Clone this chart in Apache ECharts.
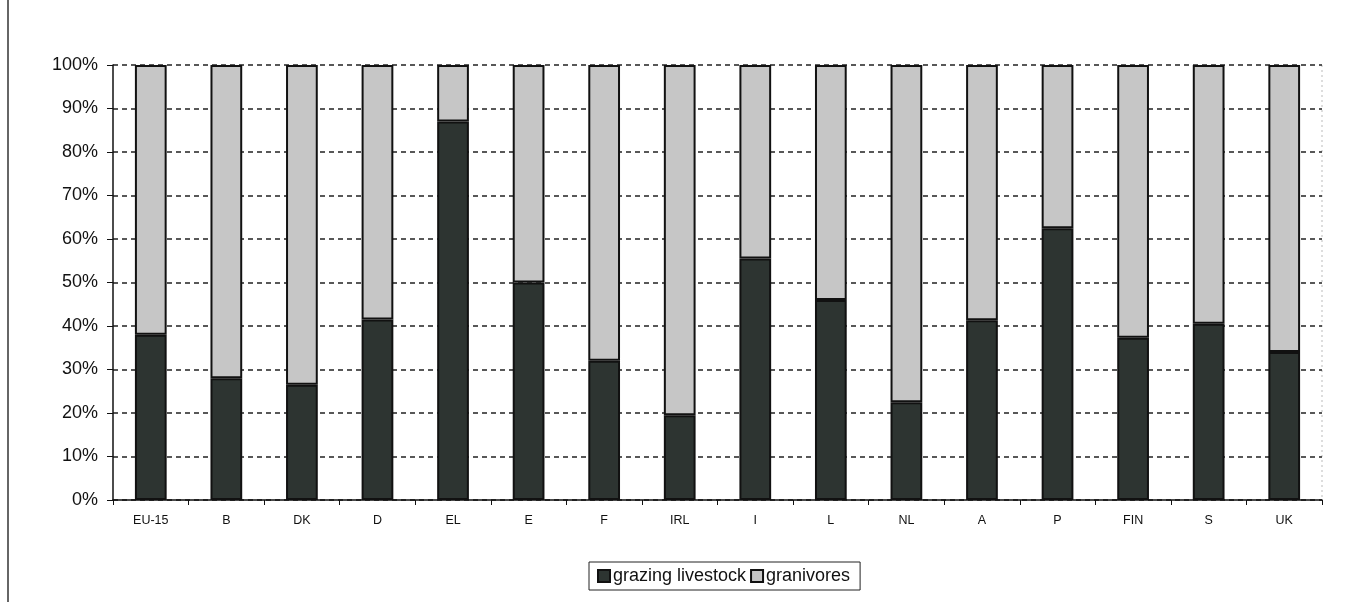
<!DOCTYPE html>
<html>
<head>
<meta charset="utf-8">
<script src="https://cdn.jsdelivr.net/npm/echarts@6/dist/echarts.min.js"></script>
<style>
html,body{margin:0;padding:0;background:#fff;}
#c{width:1372px;height:602px;}
</style>
</head>
<body>
<div id="c"></div>
<script>
const categories = ['EU-15','B','DK','D','EL','E','F','IRL','I','L','NL','A','P','FIN','S','UK'];
const grazing =    [38, 28, 26.5, 41.5, 87, 50, 32, 19.5, 55.5, 46, 22.5, 41.3, 62.5, 37.3, 40.5, 34];
const granivores = [62, 72, 73.5, 58.5, 13, 50, 68, 80.5, 44.5, 54, 77.5, 58.7, 37.5, 62.7, 59.5, 66];
const yTicks = [0,10,20,30,40,50,60,70,80,90,100];

const chart = echarts.init(document.getElementById('c'), null, {renderer:'canvas'});
const font = 'Liberation Sans, Arial, sans-serif';
chart.setOption({
  backgroundColor:'#ffffff',
  animation:false,
  grid:{left:113,right:50,top:65,bottom:102},
  legend:{
    data:['grazing livestock','granivores'],
    left:589, top:562,
    itemWidth:12,itemHeight:12,itemGap:4,
    icon:'rect',
    borderColor:'#222',borderWidth:1,padding:[5,10,5,8],
    textStyle:{fontFamily:font,fontSize:18,color:'#111',padding:[0,0,0,-2]}
  },
  xAxis:{
    type:'category',data:categories,
    axisLine:{lineStyle:{color:'#111',width:1.5}},
    axisTick:{show:true,alignWithLabel:false,length:5,lineStyle:{color:'#111'}},
    axisLabel:{fontFamily:font,fontSize:12.5,color:'#111',margin:14}
  },
  yAxis:{
    type:'value',min:0,max:100,interval:10,
    axisLine:{show:true,lineStyle:{color:'#111',width:1.5}},
    axisTick:{show:true,length:6,inside:false,lineStyle:{color:'#111'}},
    axisLabel:{fontFamily:font,fontSize:18,color:'#111',margin:15,formatter:v=>yTicks.includes(v)?v+'%':''},
    splitLine:{show:true,lineStyle:{color:'#222',type:[5,4],width:1.5}}
  },
  series:[
    {name:'grazing livestock',type:'bar',stack:'a',data:grazing,barWidth:'42%',
     itemStyle:{color:'#2d3431',borderColor:'#111',borderWidth:2}},
    {name:'granivores',type:'bar',stack:'a',data:granivores,barWidth:'42%',
     itemStyle:{color:'#c6c6c6',borderColor:'#111',borderWidth:2}}
  ],
  graphic:[
    {type:'line',shape:{x1:8,y1:0,x2:8,y2:602},style:{stroke:'#333',lineWidth:1.5}},
    {type:'line',shape:{x1:1322,y1:65,x2:1322,y2:500},style:{stroke:'#bbb',lineWidth:1,lineDash:[2,3]}}
  ]
});
</script>
</body>
</html>
